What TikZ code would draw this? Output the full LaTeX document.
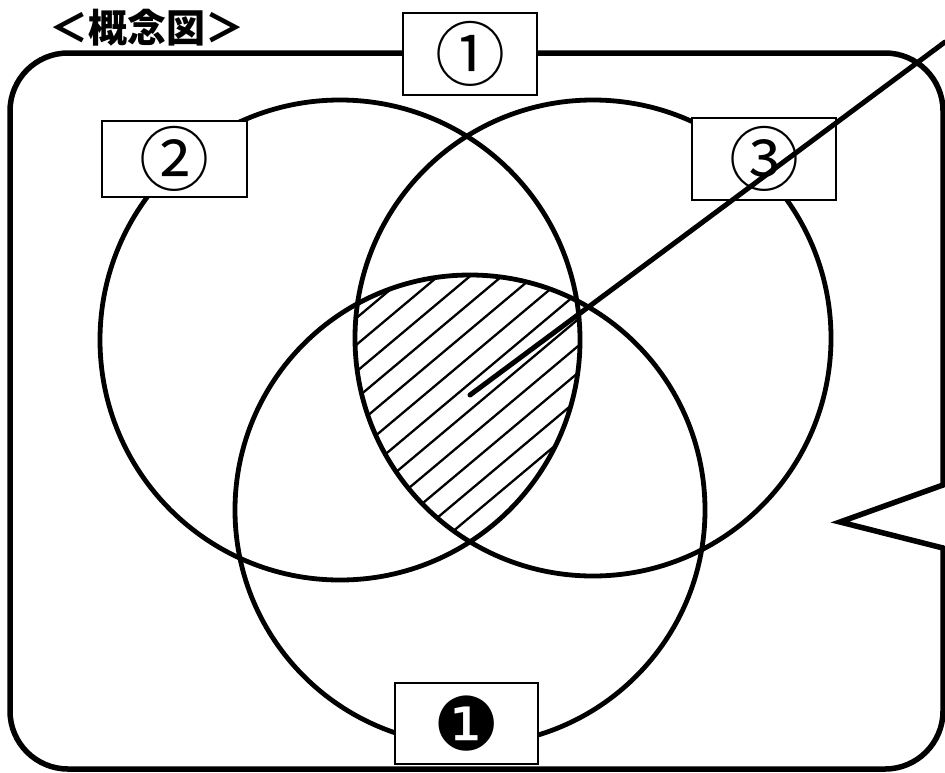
\documentclass[tikz,border=0pt]{standalone}
\usepackage{fontspec}
\newfontfamily\jp{Noto Sans CJK JP}
\newfontfamily\dvs{DejaVu Sans}
\begin{document}
\begin{tikzpicture}[x=1pt,y=-1pt,
  outline/.style={line width=5.5pt,line cap=round,line join=round},
  venn/.style={line width=4.8pt},
  hatchline/.style={line width=2.3pt},
  labelbox/.style={draw,line width=2pt,fill=white,inner sep=0pt,minimum height=82pt,minimum width=144pt},
  pointer/.style={line width=5pt,line cap=round},
  digit/.style={font=\jp\fontsize{70}{70}\selectfont}]
\useasboundingbox (0,0) rectangle (945,772);
% title
\node[anchor=center] (title) at (147,28) {\jp\bfseries\fontsize{39}{39}\selectfont ＜概念図＞};
% outer frame with speech pointer
\draw[outline,rounded corners=58pt] (943,485) -- (943,53) -- (10,53) -- (10,769) -- (943,769) -- (943,548);
\draw[outline,line join=miter] (943,485) -- (840,522) -- (943,548);
% circle centres
\coordinate (c2) at (340,340);
\coordinate (c3) at (593,338);
\coordinate (c1) at (470,510);
% hatched common region
\begin{scope}
  \clip (c2) circle[radius=240pt];
  \clip (c3) circle[radius=238pt];
  \clip (c1) circle[radius=235pt];
  \begin{scope}[shift={(470,410)},rotate=40]
    \foreach \i in {-14,...,14} \draw[hatchline] (-300,\i*20.5) -- (300,\i*20.5);
  \end{scope}
\end{scope}
% circles
\draw[venn] (c2) circle[radius=240pt];
\draw[venn] (c3) circle[radius=238pt];
\draw[venn] (c1) circle[radius=235pt];
% label boxes
\node[labelbox,minimum width=134pt,digit] (b1) at (470,54) {①};
\node[labelbox,minimum height=76pt,minimum width=145pt,digit] (b2) at (174.5,159) {②};
\node[labelbox,digit] (b3) at (764,159) {③};
\node[labelbox,minimum width=143pt,minimum height=81pt] (bb1) at (466.5,723.5) {\dvs\fontsize{74}{74}\selectfont ❶};
% pointer line
\coordinate (ptip) at (470,395);
\coordinate (pend) at (945,42);
\draw[pointer] (ptip) -- (pend);
\end{tikzpicture}
\end{document}
